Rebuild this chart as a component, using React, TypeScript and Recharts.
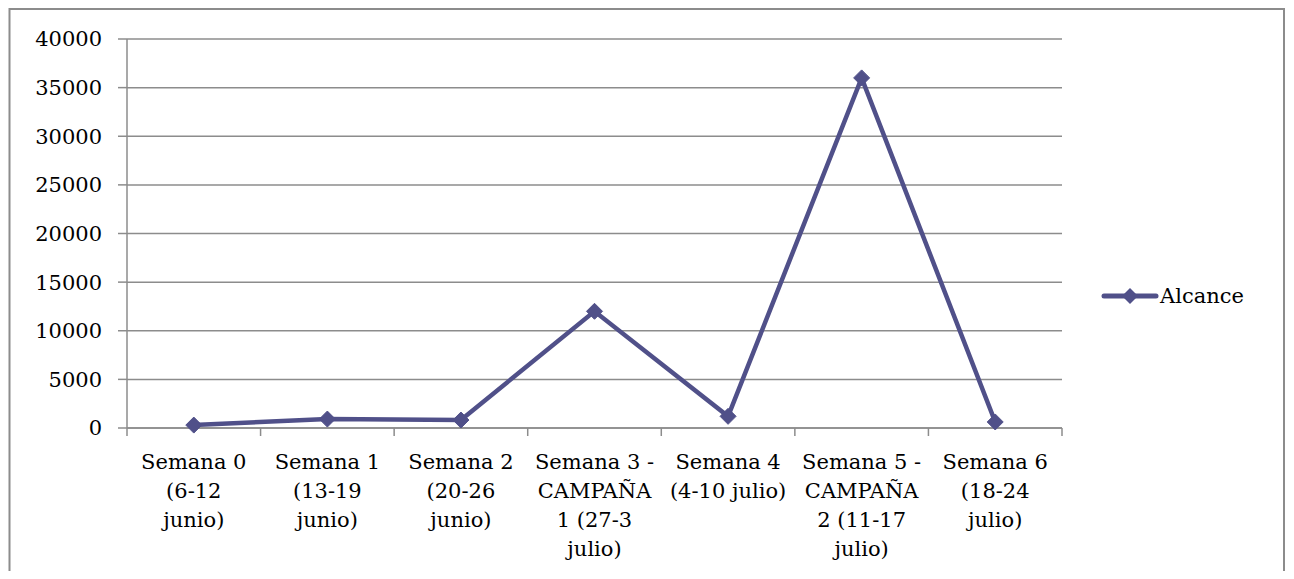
import React from "react"
import { LineChart, Line, XAxis, YAxis, CartesianGrid } from "recharts"

const weeks = [
  "Semana 0|(6-12|junio)",
  "Semana 1|(13-19|junio)",
  "Semana 2|(20-26|junio)",
  "Semana 3 -|CAMPAÑA|1 (27-3|julio)",
  "Semana 4|(4-10 julio)",
  "Semana 5 -|CAMPAÑA|2 (11-17|julio)",
  "Semana 6|(18-24|julio)",
]

const alcance = [300, 920, 820, 12000, 1200, 36000, 620]

const yTicks = [0, 5000, 10000, 15000, 20000, 25000, 30000, 35000, 40000]

const data = weeks.map((w, i) => ({ week: w, alcance: alcance[i] }))

const LINE = "#505089"
const GRID = "#8c8c8c"
const FONT = "'DejaVu Serif', 'Liberation Serif', serif"

function Diamond(props: any) {
  const { cx, cy } = props
  if (cx == null || cy == null) return null
  const r = 8
  return (
    <path
      d={`M${cx},${cy - r}L${cx + r},${cy}L${cx},${cy + r}L${cx - r},${cy}Z`}
      fill={LINE}
      stroke={LINE}
      strokeWidth={1}
    />
  )
}

const BAND = 935 / 7

function WeekTick(props: any) {
  const { x, y, payload, index } = props
  const lines = String(payload.value).split("|")
  const left = x - BAND / 2
  return (
    <g>
      <line x1={left} y1={y - 8} x2={left} y2={y} stroke={GRID} strokeWidth={1.5} />
      {index === weeks.length - 1 && (
        <line x1={x + BAND / 2} y1={y - 8} x2={x + BAND / 2} y2={y} stroke={GRID} strokeWidth={1.5} />
      )}
      <text x={x} y={y + 33} textAnchor="middle" fontFamily={FONT} fontSize={21} fill="#000">
        {lines.map((l, i) => (
          <tspan key={i} x={x} dy={i === 0 ? 0 : 29}>
            {l}
          </tspan>
        ))}
      </text>
    </g>
  )
}

export default function App() {
  return (
    <div style={{ position: "relative", margin: -8, width: 1294, height: 579, background: "#fff", overflow: "hidden" }}>
      <div style={{ position: "absolute", left: 0, top: 0 }}>
        <LineChart width={1294} height={579} data={data} margin={{ top: 39, right: 232, left: 47, bottom: 11 }}>
          <CartesianGrid vertical={false} stroke={GRID} strokeWidth={1.5} />
          <XAxis
            dataKey="week"
            interval={0}
            height={140}
            padding={{ left: BAND / 2, right: BAND / 2 }}
            tickLine={false}
            axisLine={{ stroke: GRID, strokeWidth: 1.5 }}
            tick={<WeekTick />}
          />
          <YAxis
            width={80}
            domain={[0, 40000]}
            ticks={yTicks}
            interval={0}
            tickSize={9}
            tickMargin={16}
            tickLine={{ stroke: GRID, strokeWidth: 1.5 }}
            axisLine={{ stroke: GRID, strokeWidth: 1.5 }}
            tick={{ fill: "#000", fontFamily: FONT, fontSize: 21 }}
          />
          <Line
            type="linear"
            dataKey="alcance"
            name="Alcance"
            stroke={LINE}
            strokeWidth={4.5}
            dot={<Diamond />}
            activeDot={false}
            isAnimationActive={false}
          />
        </LineChart>
      </div>
      <div style={{ position: "absolute", left: 1099, top: 281 }}>
        <svg width={170} height={30}>
          <line x1={5} y1={15} x2={57} y2={15} stroke={LINE} strokeWidth={5} strokeLinecap="round" />
          <path d="M31,7L39,15L31,23L23,15Z" fill={LINE} />
          <text x={61} y={22} fontFamily={FONT} fontSize={21} fill="#000">
            Alcance
          </text>
        </svg>
      </div>
      {/* outer frame; page edges outside x 8..1286 are not shown, so keep it just inside */}
      <svg
        width={1294}
        height={579}
        style={{ position: "absolute", left: 0, top: 0, zIndex: 5, pointerEvents: "none" }}
      >
        <path d="M9.5,600L9.5,9L1284,9L1284,600" fill="none" stroke={GRID} strokeWidth={2} />
      </svg>
    </div>
  )
}
